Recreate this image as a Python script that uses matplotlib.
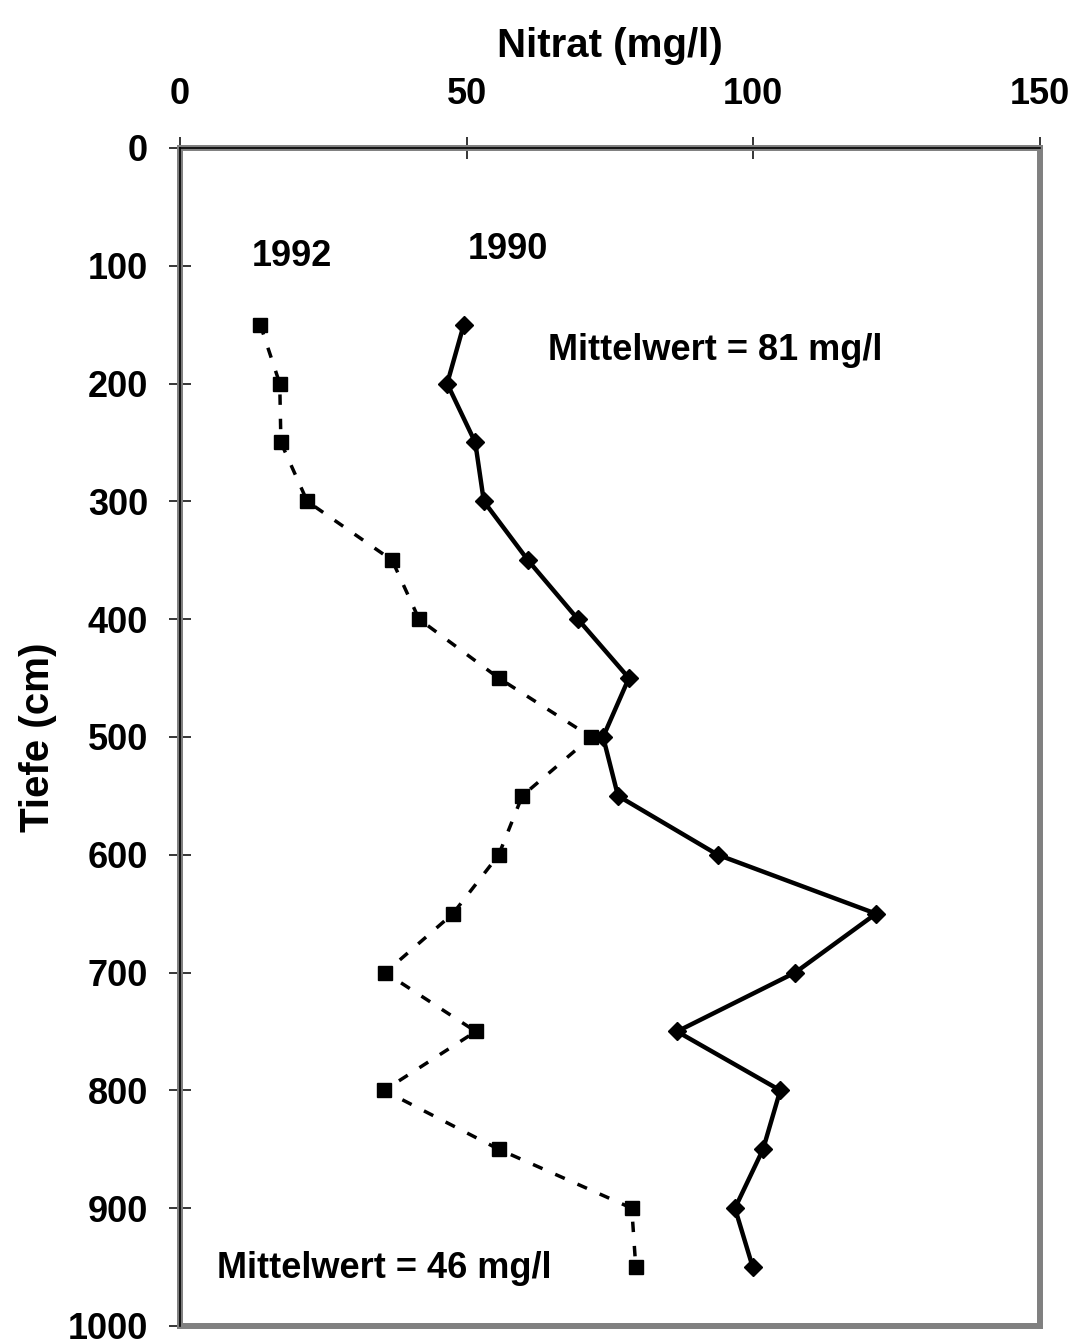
import matplotlib.pyplot as plt

# Tiefe in cm
tiefe = [150, 200, 250, 300, 350, 400, 450, 500, 550, 600, 650, 700, 750, 800, 850, 900, 950]
# Nitrat mg/l
nitrat_1990 = [49.5, 46.6, 51.5, 53, 60.7, 69.4, 78.3, 73.8, 76.4, 93.8, 121.4, 107.3, 86.7, 104.7, 101.7, 96.8, 99.9]
nitrat_1992 = [14, 17.4, 17.6, 22.2, 37, 41.7, 55.6, 71.7, 59.7, 55.6, 47.6, 35.8, 51.6, 35.6, 55.6, 78.8, 79.5]

plt.rcParams['font.family'] = ['Liberation Sans', 'DejaVu Sans']
plt.rcParams['font.weight'] = 'bold'

fig = plt.figure(figsize=(10.74, 13.44), dpi=100)
ax = fig.add_axes([0.1676, 0.0134, 0.8007, 0.8765])

ax.plot(nitrat_1990, tiefe, color='black', lw=3.2, marker='D', ms=9.5, zorder=3)
ax.plot(nitrat_1992, tiefe, color='black', lw=2.5, ls=(0, (3, 4)), marker='s', ms=9.5, zorder=3)

ax.set_xlim(0, 150)
ax.set_ylim(1000, 0)
ax.xaxis.tick_top()
ax.xaxis.set_label_position('top')
ax.set_xticks([0, 50, 100, 150])
ax.set_yticks(range(0, 1001, 100))
# Ticks kreuzen die Achse
ax.tick_params(axis='both', labelsize=26, length=16, width=1.1, direction='inout')
ax.tick_params(axis='x', pad=18)
ax.tick_params(axis='y', pad=15)
ax.set_xlabel('Nitrat (mg/l)', fontsize=29, fontweight='bold', labelpad=14)
ax.set_ylabel('Tiefe (cm)', fontsize=29, fontweight='bold', labelpad=8)

# grauer Rahmen wie im Original
for s in ax.spines.values():
    s.set_color('#808080')
    s.set_linewidth(4.3)
ax.plot([0, 150], [0, 0], color='black', lw=1.2, clip_on=False, zorder=4)
ax.plot([0, 0], [0, 1000], color='black', lw=1.2, clip_on=False, zorder=4)

ax.text(12.6, 92.5, '1992', fontsize=26, fontweight='bold', ha='left', va='center')
ax.text(50.2, 86.6, '1990', fontsize=26, fontweight='bold', ha='left', va='center')
ax.text(64.2, 171.5, 'Mittelwert = 81 mg/l', fontsize=26, fontweight='bold', ha='left', va='center')
ax.text(6.45, 951, 'Mittelwert = 46 mg/l', fontsize=26, fontweight='bold', ha='left', va='center')

fig.savefig('out.png', dpi=100)
